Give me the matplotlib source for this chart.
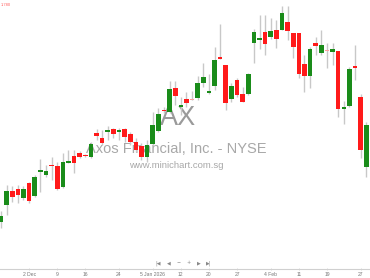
import matplotlib
matplotlib.use("Agg")
import matplotlib.pyplot as plt
import numpy as np

opens  = [77.8,79.5,80.9,81.1,80.2,81.7,80.4,82.8,82.5,83.5,83.4,81.3,83.7,84.4,84.7,84.5,84.3,86.7,86.2,86.8,
          87.1,86.8,87.1,86.6,85.8,85.4,84.3,85.6,86.9,89.0,88.8,91.2,89.3,90.1,90.05,90.2,91.7,90.7,91.4,94.3,
          93.5,90.1,92.0,90.6,90.6,95.7,96.0,96.8,96.3,97.0,97.0,97.8,96.7,96.7,93.6,92.4,95.7,94.7,94.9,94.8,
          94.9,89.1,89.4,93.4,90.3,83.3]
highs  = [78.9,81.5,81.4,81.5,81.4,81.8,82.5,84.1,83.5,84.3,83.8,84.7,85.0,85.0,84.9,84.6,85.8,87.1,87.0,87.4,
          87.2,87.2,87.2,86.8,86.2,85.7,86.0,88.8,89.2,89.3,91.9,91.9,90.3,90.8,90.9,92.4,93.7,92.6,95.3,97.6,
          93.5,91.7,92.2,91.3,92.7,97.1,98.5,98.5,98.2,98.0,99.4,99.4,96.7,96.7,94.5,95.3,96.3,97.0,95.7,95.7,
          94.9,89.9,93.3,95.5,90.6,87.8]
lows   = [77.2,78.5,79.8,79.7,80.0,79.7,80.3,80.8,82.3,82.0,81.0,81.2,83.7,82.7,84.2,84.3,84.2,86.0,85.5,86.0,
          86.2,86.0,85.8,85.5,84.8,84.0,83.8,85.5,86.8,88.7,88.7,89.5,88.5,89.3,90.0,90.0,91.3,90.6,91.0,94.1,
          89.0,89.8,90.3,89.8,90.5,93.7,95.1,94.5,96.1,95.2,97.0,96.0,94.2,92.2,90.8,91.2,94.5,94.5,93.2,93.5,
          88.3,87.6,89.3,92.0,84.2,82.3]
closes = [78.4,80.9,80.3,80.5,81.1,79.9,82.3,83.0,82.9,83.4,81.1,83.8,83.9,83.7,84.3,84.4,85.6,86.4,85.7,87.0,
          86.6,87.0,86.3,85.8,85.0,84.3,85.5,87.5,88.6,88.9,91.1,90.4,89.5,89.7,90.05,91.7,92.3,90.9,94.0,94.1,
          89.7,91.4,90.5,89.8,92.6,96.8,96.2,95.6,96.9,96.1,98.7,96.9,95.3,92.6,92.4,95.1,95.4,95.5,94.9,95.1,
          89.1,89.3,93.1,93.2,85.0,87.5]

tick_idx = [5, 10, 15, 21, 27, 32, 37, 42, 48, 53, 58, 64]
tick_labels = ["2 Dec", "9", "16", "24", "5 Jan 2026", "12", "20", "27", "4 Feb", "11", "19", "27"]

W, H = 370, 278
fig = plt.figure(figsize=(W/100, H/100), dpi=100)
ax = fig.add_axes([0, 9/H, 1, 1 - 9/H])
ax.set_facecolor("white")

n = len(opens)
x = np.arange(n)
green = "#1a8c1a"
red = "#ff1a1a"
pink = "#ff9f9f"
wick = "#c8c8c8"

# watermark
ax.text(0.481, 1 - 125/269, "AX", transform=ax.transAxes, ha="center", va="baseline",
        fontsize=19.5, color="#9a9a9a", family="Liberation Sans", zorder=0)
ax.text(0.475, 1 - 153/269, "Axos Financial, Inc. - NYSE", transform=ax.transAxes, ha="center",
        va="baseline", fontsize=10.5, color="#a8a8a8", family="Liberation Sans", zorder=0)
ax.text(0.476, 1 - 168/269, "www.minichart.com.sg", transform=ax.transAxes, ha="center",
        va="baseline", fontsize=6.8, color="#a8a8a8", family="Liberation Sans", zorder=0)

ax.vlines(x, lows, highs, color=wick, linewidth=1.0, zorder=2)
for i in range(n):
    o, c = opens[i], closes[i]
    if abs(c - o) < 0.02:
        col = pink
    elif c > o:
        col = green
    else:
        col = red
    bottom = min(o, c)
    height = max(abs(c - o), 0.1)
    ax.bar(x[i], height, bottom=bottom, width=0.82, color=col, linewidth=0, zorder=3)

ax.set_xlim(-0.178, 65.66)
ax.set_ylim(100 - 26.9, 100)
for s in ["top", "right", "left"]:
    ax.spines[s].set_visible(False)
ax.spines["bottom"].set_color("#d0d0d0")
ax.spines["bottom"].set_linewidth(0.8)
ax.set_yticks([])
ax.set_xticks(tick_idx)
ax.set_xticklabels(tick_labels, fontsize=3.6, color="#777777", family="Liberation Sans")
ax.tick_params(axis="x", length=2, width=0.5, color="#cccccc", pad=1.5, direction="inout")

# top-left price label
ax.text(1/370, 1 - 5/269, "1.780", transform=ax.transAxes, ha="left", va="center",
        fontsize=3, color="#ff6060", family="Liberation Sans")

# navigation icons
nav = ["|◀", "◀", "−", "+", "▶", "▶|"]
nav_x = [158, 169, 179, 189, 199, 209]
for s, px in zip(nav, nav_x):
    fig.text(px / W, 1 - 263 / H, s, ha="center", va="center", fontsize=3.5, color="#888888",
             family="DejaVu Sans")

fig.savefig("out.png", dpi=100)
